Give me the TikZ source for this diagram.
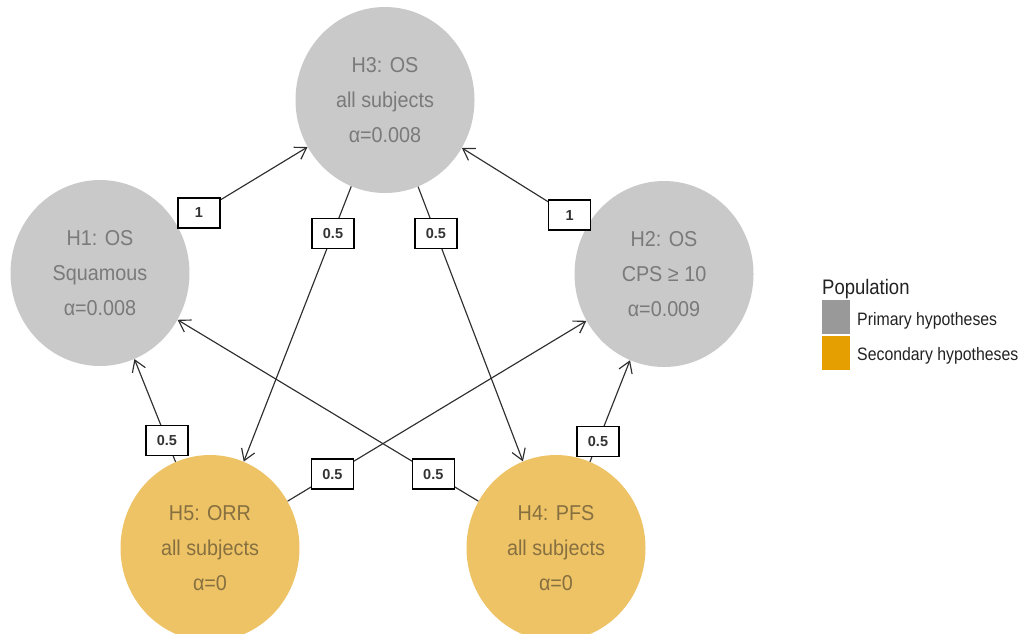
\documentclass[tikz,border=0pt]{standalone}
\usepackage{fontspec}
\setmainfont{Liberation Sans}
\newfontfamily\legendfont{Liberation Sans}[FakeStretch=0.88]
\newfontfamily\hypfont{Liberation Sans}[FakeStretch=0.92]
\usetikzlibrary{arrows.meta,shapes.geometric}
\definecolor{pfill}{HTML}{C9C9C9}
\definecolor{ptext}{HTML}{7A7A7A}
\definecolor{sfill}{HTML}{EEC366}
\definecolor{stext}{HTML}{877040}
\definecolor{edgec}{HTML}{2E2E2E}
\definecolor{labc}{HTML}{333333}
\definecolor{lgrey}{HTML}{999999}
\definecolor{lorange}{HTML}{E69F00}
\definecolor{ltext}{HTML}{222222}
\begin{document}
\begin{tikzpicture}[x=1pt,y=-1pt,
  hyp/.style={ellipse, minimum width=179pt, minimum height=186pt, inner sep=0pt, align=center,
    font=\hypfont\fontsize{21.5}{35}\selectfont},
  prim/.style={hyp, fill=pfill, text=ptext},
  sec/.style={hyp, fill=sfill, text=stext},
  edge/.style={draw=edgec, line width=1.15pt,
    -{Straight Barb[length=11pt,width=14pt,line width=1.15pt]}},
  lbl/.style={draw=black, fill=white, line width=1.3pt, minimum width=42pt,
    minimum height=30pt, inner sep=0pt, font=\bfseries\fontsize{14.5}{15}\selectfont, text=labc},
  keybox/.style={minimum width=28pt, minimum height=34pt, inner sep=0pt, anchor=north west},
  keytext/.style={anchor=west, inner sep=0pt, text=ltext, font=\legendfont\fontsize{18}{20}\selectfont}]
\useasboundingbox (0,0) rectangle (1024,633);

\node[prim] (H3) at (385,100) {H3: OS\\all subjects\\α=0.008};
\node[prim] (H1) at (100,273) {H1: OS\\Squamous\\α=0.008};
\node[prim] (H2) at (664,274) {H2: OS\\CPS ≥ 10\\α=0.009};
\node[sec] (H5) at (210,548) {H5: ORR\\all subjects\\α=0};
\node[sec] (H4) at (556,548) {H4: PFS\\all subjects\\α=0};

\draw[edge] (H1) -- node[lbl, pos=0.165] (l13) {1} (H3);
\draw[edge] (H2) -- node[lbl, pos=0.14] (l23) {1} (H3);
\draw[edge] (H3) -- node[lbl, pos=0.17] (l35) {0.5} (H5);
\draw[edge] (H3) -- node[lbl, pos=0.17] (l34) {0.5} (H4);
\draw[edge] (H5) -- node[lbl, pos=0.21] (l51) {0.5} (H1);
\draw[edge] (H5) -- node[lbl, pos=0.15] (l52) {0.5} (H2);
\draw[edge] (H4) -- node[lbl, pos=0.15] (l41) {0.5} (H1);
\draw[edge] (H4) -- node[lbl, pos=0.2] (l42) {0.5} (H2);

\node[anchor=base west, inner sep=0pt, text=ltext, font=\legendfont\fontsize{21}{22}\selectfont] (ltitle) at (822,294) {Population};
\node[keybox, fill=lgrey] (kp) at (822,300) {};
\node[keybox, fill=lorange] (ks) at (822,336) {};
\node[keytext] (tp) at (857,321) {Primary hypotheses};
\node[keytext] (ts) at (857,356) {Secondary hypotheses};
\end{tikzpicture}
\end{document}
